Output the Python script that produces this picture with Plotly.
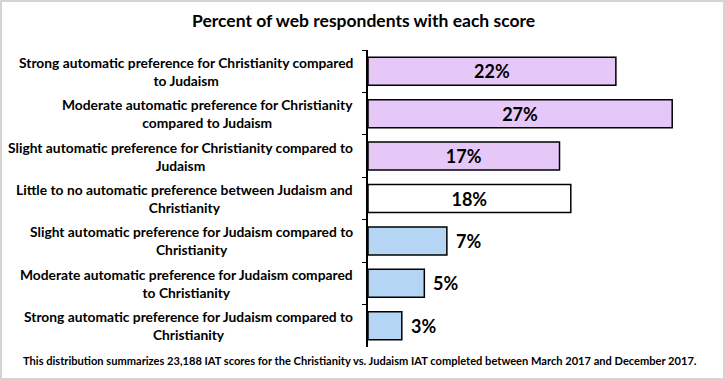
import plotly.graph_objects as go

categories = [
    "Strong automatic preference for Christianity compared<br>to Judaism",
    "Moderate automatic preference for Christianity<br>compared to Judaism",
    "Slight automatic preference for Christianity compared to<br>Judaism",
    "Little to no automatic preference between Judaism and<br>Christianity",
    "Slight automatic preference for Judaism compared to<br>Christianity",
    "Moderate automatic preference for Judaism compared<br>to Christianity",
    "Strong automatic preference for Judaism compared to<br>Christianity",
]
values = [22, 27, 17, 18, 7, 5, 3]
labels = ["22%", "27%", "17%", "18%", "7%", "5%", "3%"]
colors = ["#E6C8F8", "#E6C8F8", "#E6C8F8", "#FFFFFF", "#B4D6F4", "#B4D6F4", "#B4D6F4"]
title = "Percent of web respondents with each score"
footnote = ("This distribution summarizes 23,188 IAT scores for the Christianity vs. "
            "Judaism IAT completed between March 2017 and December 2017.")

W, H = 725, 380
ML, MR, MT, MB = 368, 19, 50, 33
PW, PH = W - ML - MR, H - MT - MB

FONT = "Lato"

inside = [v >= 10 for v in values]
fig = go.Figure(go.Bar(
    y=categories, x=values, orientation="h",
    marker=dict(color=colors, line=dict(color="black", width=1.5)),
    width=0.66,
    text=[l if i else "" for l, i in zip(labels, inside)],
    textposition="inside", insidetextanchor="middle",
    textfont=dict(family=FONT, size=18, color="black", weight="bold"),
    constraintext="none",
    hoverinfo="skip",
))

annotations = []
for c in categories:
    annotations.append(dict(
        x=0, xref="paper", y=c, yref="y", text=c, showarrow=False,
        xanchor="right", xshift=-13, align="center",
        font=dict(family=FONT, size=13.8, color="black", weight="bold"),
    ))
for c, v, l, i in zip(categories, values, labels, inside):
    if not i:
        annotations.append(dict(
            x=v, xref="x", y=c, yref="y", text=l, showarrow=False,
            xanchor="left", xshift=7,
            font=dict(family=FONT, size=18, color="black", weight="bold"),
        ))
annotations.append(dict(
    x=(360 - ML) / PW, xref="paper", y=-(360 - (MT + PH)) / PH, yref="paper",
    text=footnote, showarrow=False, xanchor="center", yanchor="middle",
    font=dict(family=FONT, size=11.1, color="black", weight="bold"),
))
annotations.append(dict(
    x=(363 - ML) / PW, xref="paper", y=1 + (MT - 21) / PH, yref="paper",
    text=title, showarrow=False, xanchor="center", yanchor="middle",
    font=dict(family=FONT, size=17.5, color="black", weight="bold"),
))

fig.update_layout(
    width=W, height=H,
    margin=dict(l=ML, r=MR, t=MT, b=MB, autoexpand=False),
    paper_bgcolor="white", plot_bgcolor="white",
    showlegend=False,
    xaxis=dict(range=[0, 30], visible=False, fixedrange=True),
    yaxis=dict(autorange="reversed", showticklabels=False, showline=True,
               linecolor="black", linewidth=1.5, ticks="outside", ticklen=4,
               tickcolor="black", tickson="boundaries", showgrid=False,
               zeroline=False, fixedrange=True, automargin=False),
    annotations=annotations,
    shapes=[dict(type="rect", xref="paper", yref="paper",
                 x0=-(ML - 1) / PW, x1=1 + (MR - 1) / PW,
                 y0=-(MB - 1) / PH, y1=1 + (MT - 1) / PH,
                 line=dict(color="#D4D4D4", width=2), layer="below")],
)

fig.write_html("out.html", config={"displayModeBar": False},
               post_script="document.body.style.margin='0px';document.body.style.overflow='hidden';")
